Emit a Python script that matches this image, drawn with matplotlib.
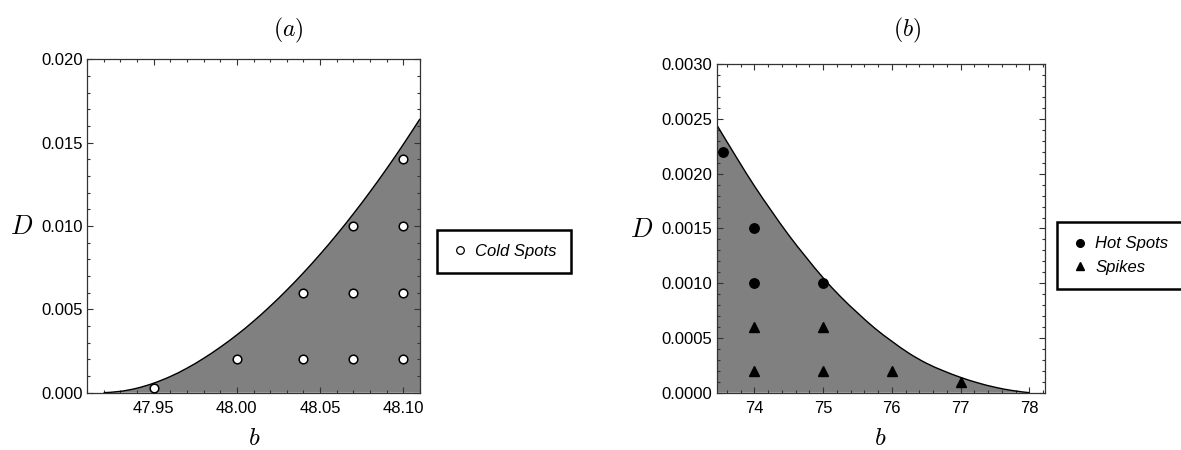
import matplotlib
matplotlib.use("Agg")
import matplotlib.pyplot as plt
from matplotlib.lines import Line2D
from matplotlib.path import Path
from matplotlib.patches import PathPatch
from matplotlib.ticker import MultipleLocator, FormatStrFormatter

plt.rcParams["font.family"] = ["Liberation Sans", "DejaVu Sans"]
plt.rcParams["mathtext.fontset"] = "cm"

# ---------------------------------------------------------------------------
# Data
# ---------------------------------------------------------------------------
# (a) boundary of the shaded region
edge_a_b = [47.920, 47.930, 47.940, 47.950, 47.960, 47.970, 47.980, 47.990,
            48.000, 48.010, 48.020, 48.030, 48.040, 48.050, 48.060, 48.070,
            48.080, 48.090, 48.100, 48.110]
edge_a_D = [0.0000, 0.00008, 0.00027, 0.00057, 0.00097, 0.00147, 0.00206,
            0.00273, 0.00347, 0.00429, 0.00519, 0.00616, 0.00720, 0.00831,
            0.00949, 0.01074, 0.01206, 0.01345, 0.01491, 0.01644]

cold_b = [47.95, 48.00, 48.04, 48.04, 48.07, 48.07, 48.07, 48.10, 48.10, 48.10, 48.10]
cold_D = [0.0003, 0.002, 0.002, 0.006, 0.002, 0.006, 0.010, 0.002, 0.006, 0.010, 0.014]

# (b) boundary of the shaded region
edge_b_b = [73.45, 73.75, 74.00, 74.25, 74.50, 74.75, 75.00, 75.25, 75.50,
            75.75, 76.00, 76.25, 76.50, 76.75, 77.00, 77.25, 77.50, 77.75, 78.00]
edge_b_D = [0.00245, 0.00214, 0.00189, 0.00166, 0.00144, 0.00124, 0.00105,
            0.00088, 0.00073, 0.00059, 0.00047, 0.00036, 0.00027, 0.00020,
            0.00014, 0.00009, 0.00005, 0.00002, 0.0]

hot_b = [73.55, 74.0, 74.0, 75.0]
hot_D = [0.0022, 0.0015, 0.0010, 0.0010]

spike_b = [74.0, 74.0, 75.0, 75.0, 76.0, 77.0]
spike_D = [0.0006, 0.0002, 0.0006, 0.0002, 0.0002, 0.0001]

# ---------------------------------------------------------------------------
W, H = 1181, 450
fig = plt.figure(figsize=(W / 100, H / 100), dpi=100)

ax_a = fig.add_axes([87 / W, 1 - 392.7 / H, 333 / W, 333.2 / H])
ax_b = fig.add_axes([716.5 / W, 1 - 392.7 / H, 328 / W, 328.4 / H])

FILL = "#808080"


def smooth_verts(xs, ys):
    # bezier path through the read points (Catmull-Rom tangents)
    pts = list(zip(xs, ys))
    verts = [pts[0]]
    codes = [Path.MOVETO]
    n = len(pts)
    for i in range(n - 1):
        p0 = pts[max(i - 1, 0)]
        p1 = pts[i]
        p2 = pts[i + 1]
        p3 = pts[min(i + 2, n - 1)]
        c1 = (p1[0] + (p2[0] - p0[0]) / 6, p1[1] + (p2[1] - p0[1]) / 6)
        c2 = (p2[0] - (p3[0] - p1[0]) / 6, p2[1] - (p3[1] - p1[1]) / 6)
        verts += [c1, c2, p2]
        codes += [Path.CURVE4] * 3
    return verts, codes


def draw_region(ax, xs, ys):
    verts, codes = smooth_verts(xs, ys)
    fill_v = verts + [(xs[-1], 0), (xs[0], 0), verts[0]]
    fill_c = codes + [Path.LINETO, Path.LINETO, Path.CLOSEPOLY]
    ax.add_patch(PathPatch(Path(fill_v, fill_c), facecolor=FILL, lw=0, zorder=1))
    ax.add_patch(PathPatch(Path(verts, codes), facecolor="none",
                           edgecolor="black", lw=1.0, zorder=2))


def style_axes(ax, xmaj, xmin, ymaj, ymin, xfmt, yfmt):
    ax.xaxis.set_major_locator(MultipleLocator(xmaj))
    ax.xaxis.set_minor_locator(MultipleLocator(xmin))
    ax.yaxis.set_major_locator(MultipleLocator(ymaj))
    ax.yaxis.set_minor_locator(MultipleLocator(ymin))
    ax.xaxis.set_major_formatter(FormatStrFormatter(xfmt))
    ax.yaxis.set_major_formatter(FormatStrFormatter(yfmt))
    ax.tick_params(which="both", direction="in", top=True, right=True,
                   color="#333333", width=0.8)
    ax.tick_params(which="major", length=4.5)
    ax.tick_params(which="minor", length=2.5)
    ax.tick_params(axis="x", which="major", pad=6, labelsize=12)
    ax.tick_params(axis="y", which="major", pad=3, labelsize=12)
    for s in ax.spines.values():
        s.set_color("#333333")
        s.set_linewidth(0.9)


# ---- panel (a) ----
draw_region(ax_a, edge_a_b, edge_a_D)
ax_a.plot(cold_b, cold_D, "o", ms=6.2, mfc="white", mec="black", mew=1.1,
          ls="none", zorder=3, clip_on=False)
ax_a.set_xlim(47.91, 48.11)
ax_a.set_ylim(0, 0.020)
style_axes(ax_a, 0.05, 0.01, 0.005, 0.001, "%.2f", "%.3f")

# ---- panel (b) ----
draw_region(ax_b, edge_b_b, edge_b_D)
ax_b.plot(hot_b, hot_D, "o", ms=6.8, mfc="black", mec="black",
          ls="none", zorder=3)
ax_b.plot(spike_b, spike_D, "^", ms=7.6, mfc="black", mec="black",
          ls="none", zorder=3)
ax_b.set_xlim(73.45, 78.22)
ax_b.set_ylim(0, 0.0030)
style_axes(ax_b, 1, 0.2, 0.0005, 0.0001, "%d", "%.4f")

# ---- axis labels and panel titles ----
fig.text(22 / W, 1 - 227 / H, r"$D$", fontsize=19, ha="center", va="center")
fig.text(254 / W, 1 - 438 / H, r"$b$", fontsize=18, ha="center", va="center")
fig.text(642 / W, 1 - 230 / H, r"$D$", fontsize=19, ha="center", va="center")
fig.text(880 / W, 1 - 438 / H, r"$b$", fontsize=18, ha="center", va="center")
fig.text(288 / W, 1 - 30 / H, r"$(a)$", fontsize=17, ha="center", va="center")
fig.text(907 / W, 1 - 30 / H, r"$(b)$", fontsize=17, ha="center", va="center")

# ---- legends ----
leg_kw = dict(frameon=True, fancybox=False, framealpha=1, edgecolor="black",
              prop={"style": "italic", "size": 12}, handletextpad=0.45,
              handlelength=1.0, borderpad=0.85, labelspacing=0.5,
              borderaxespad=0)

h_cold = Line2D([], [], ls="none", marker="o", ms=5.5, mfc="white",
                mec="black", mew=0.9)
leg_a = fig.legend([h_cold], ["Cold Spots"], loc="center left",
                   bbox_to_anchor=(437 / W, 1 - 251.5 / H), **leg_kw)
leg_a.get_frame().set_linewidth(1.8)

h_hot = Line2D([], [], ls="none", marker="o", ms=5.5, mfc="black", mec="black")
h_spk = Line2D([], [], ls="none", marker="^", ms=5.5, mfc="black", mec="black")
leg_b = fig.legend([h_hot, h_spk], ["Hot Spots", "Spikes"], loc="center left",
                   bbox_to_anchor=(1057 / W, 1 - 255.5 / H), **leg_kw)
leg_b.get_frame().set_linewidth(1.8)

fig.savefig("out.png", dpi=100)
